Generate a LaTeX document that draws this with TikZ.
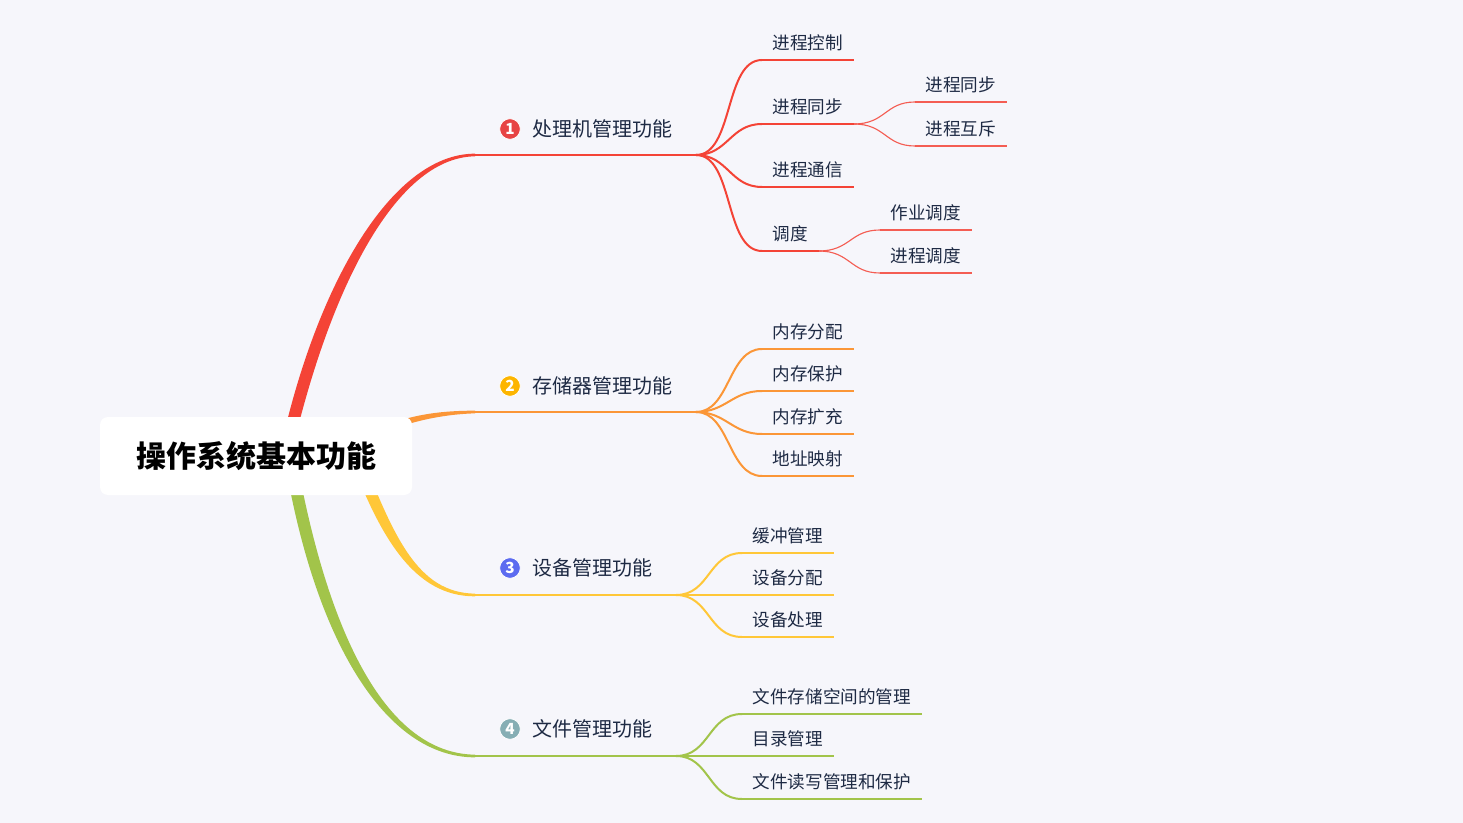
\documentclass[tikz,border=0pt]{standalone}
\usepackage{fontspec}
\setmainfont{Noto Sans CJK SC}
\usetikzlibrary{positioning}
\definecolor{pagebg}{HTML}{F6F6FB}
\definecolor{inkblue}{HTML}{1E2A44}
\definecolor{cpured}{HTML}{F44336}
\definecolor{memorange}{HTML}{FB9637}
\definecolor{devyellow}{HTML}{FFC738}
\definecolor{filegreen}{HTML}{A2C44A}
\definecolor{iconred}{HTML}{E74444}
\definecolor{iconamber}{HTML}{FDB500}
\definecolor{iconblue}{HTML}{5C6BF0}
\definecolor{iconteal}{HTML}{86AEB4}
\tikzset{
	rootbox/.style={fill=white, rounded corners=6pt, minimum width=234pt, minimum height=58.5pt, inner sep=0pt, font=\fontsize{22.5}{26}\selectfont\bfseries, text=black},
	topic/.style={inner sep=0pt, font=\fontsize{15}{18}\selectfont, text=inkblue},
	icon/.style={circle, draw=white, line width=0.6pt, minimum size=15.5pt, inner sep=0pt, text=white, font=\fontsize{11.5}{12}\selectfont\bfseries},
	leaf/.style={anchor=south west, inner xsep=7.8pt, inner ysep=5pt, text height=10.5pt, text depth=2.5pt, font=\fontsize{13.2}{16}\selectfont, text=inkblue},
	limbline/.style={line width=2.1pt},
	twig/.style={line width=1.5pt},
	subline/.style={line width=0.85pt, draw opacity=0.85}
}
\begin{document}
\begin{tikzpicture}[x=0.75pt, y=-0.75pt, node distance=8.4pt]
	\useasboundingbox (0,0) rectangle (1463,823);
	\fill[pagebg] (0,0) rectangle (1463,823);

	\coordinate (rootr) at (285,456);
	\coordinate (rootm) at (380,431);
	\coordinate (rooty) at (350,440);
	\coordinate (rootg) at (290,456);

	\coordinate (cpuin) at (475,155);
	\coordinate (cpuout) at (696,155);
	\coordinate (memin) at (475,412);
	\coordinate (memout) at (696,412);
	\coordinate (devin) at (475,595);
	\coordinate (devout) at (676,595);
	\coordinate (filein) at (475,756);
	\coordinate (fileout) at (676,756);

	% main limbs
	\fill[cpured] ([xshift=-4.5pt]rootr) .. controls +(35,-166) and +(-85,0) .. ([yshift=1pt]cpuin) -- ([yshift=-1pt]cpuin) .. controls +(-81,1) and +(37,-162) .. ([xshift=4.5pt]rootr) -- cycle;
	\fill[memorange] ([yshift=2.4pt]rootm) .. controls +(30,-13) and +(-35,0) .. ([yshift=1pt]memin) -- ([yshift=-1pt]memin) .. controls +(-32,1) and +(30,-13) .. ([yshift=-2.4pt]rootm) -- cycle;
	\fill[devyellow] ([xshift=-4.5pt]rooty) .. controls +(35,100) and +(-60,0) .. ([yshift=-1pt]devin) -- ([yshift=1pt]devin) .. controls +(-58,-1) and +(37,97) .. ([xshift=4.5pt]rooty) -- cycle;
	\fill[filegreen] ([xshift=-4.5pt]rootg) .. controls +(30,184) and +(-90,0) .. ([yshift=-1pt]filein) -- ([yshift=1pt]filein) .. controls +(-88,-1) and +(32,180) .. ([xshift=4.5pt]rootg) -- cycle;

	\node[rootbox] (root) at (256,456) {操作系统基本功能};

	\draw[limbline, cpured] (cpuin) -- (cpuout);
	\draw[limbline, memorange] (memin) -- (memout);
	\draw[limbline, devyellow] (devin) -- (devout);
	\draw[limbline, filegreen] (filein) -- (fileout);

	\node[icon, fill=iconred] (cpuicon) at (510,129) {1};
	\node[icon, fill=iconamber] (memicon) at (510,386) {2};
	\node[icon, fill=iconblue] (devicon) at (510,568) {3};
	\node[icon, fill=iconteal] (fileicon) at (510,729) {4};
	\node[topic, right=of cpuicon] (cpu) {处理机管理功能};
	\node[topic, right=of memicon] (mem) {存储器管理功能};
	\node[topic, right=of devicon] (dev) {设备管理功能};
	\node[topic, right=of fileicon] (file) {文件管理功能};

	% processor
	\node[leaf] (p1) at (762,60) {进程控制};
	\node[leaf] (p2) at (762,124) {进程同步};
	\node[leaf] (p3) at (762,187) {进程通信};
	\node[leaf] (p4) at (762,251) {调度};
	\node[leaf] (p21) at (915,102) {进程同步};
	\node[leaf] (p22) at (915,146) {进程互斥};
	\node[leaf] (p41) at (880,230) {作业调度};
	\node[leaf] (p42) at (880,273) {进程调度};
	\draw[limbline, cpured] (p1.south west) -- (p1.south east);
	\draw[limbline, cpured] (p2.south west) -- (p2.south east);
	\draw[limbline, cpured] (p3.south west) -- (p3.south east);
	\draw[limbline, cpured] (p4.south west) -- (p4.south east);
	\draw[twig, cpured] (cpuout) .. controls +(38,0) and +(-38,0) .. (p1.south west);
	\draw[twig, cpured] (cpuout) .. controls +(32,0) and +(-32,0) .. (p2.south west);
	\draw[twig, cpured] (cpuout) .. controls +(32,0) and +(-32,0) .. (p3.south west);
	\draw[twig, cpured] (cpuout) .. controls +(38,0) and +(-38,0) .. (p4.south west);
	\draw[subline, cpured] (p21.south west) -- (p21.south east);
	\draw[subline, cpured] (p22.south west) -- (p22.south east);
	\draw[subline, cpured] (p41.south west) -- (p41.south east);
	\draw[subline, cpured] (p42.south west) -- (p42.south east);
	\draw[subline, cpured] (p2.south east) .. controls +(32,0) and +(-30,0) .. (p21.south west);
	\draw[subline, cpured] (p2.south east) .. controls +(32,0) and +(-30,0) .. (p22.south west);
	\draw[subline, cpured] (p4.south east) .. controls +(32,0) and +(-30,0) .. (p41.south west);
	\draw[subline, cpured] (p4.south east) .. controls +(32,0) and +(-30,0) .. (p42.south west);

	% memory
	\node[leaf] (m1) at (762,349) {内存分配};
	\node[leaf] (m2) at (762,391) {内存保护};
	\node[leaf] (m3) at (762,434) {内存扩充};
	\node[leaf] (m4) at (762,476) {地址映射};
	\draw[limbline, memorange] (m1.south west) -- (m1.south east);
	\draw[limbline, memorange] (m2.south west) -- (m2.south east);
	\draw[limbline, memorange] (m3.south west) -- (m3.south east);
	\draw[limbline, memorange] (m4.south west) -- (m4.south east);
	\draw[twig, memorange] (memout) .. controls +(34,0) and +(-34,0) .. (m1.south west);
	\draw[twig, memorange] (memout) .. controls +(30,0) and +(-30,0) .. (m2.south west);
	\draw[twig, memorange] (memout) .. controls +(30,0) and +(-30,0) .. (m3.south west);
	\draw[twig, memorange] (memout) .. controls +(34,0) and +(-34,0) .. (m4.south west);

	% device
	\node[leaf] (d1) at (742,553) {缓冲管理};
	\node[leaf] (d2) at (742,595) {设备分配};
	\node[leaf] (d3) at (742,637) {设备处理};
	\draw[limbline, devyellow] (d1.south west) -- (d1.south east);
	\draw[limbline, devyellow] (d2.south west) -- (d2.south east);
	\draw[limbline, devyellow] (d3.south west) -- (d3.south east);
	\draw[twig, devyellow] (devout) .. controls +(34,0) and +(-34,0) .. (d1.south west);
	\draw[twig, devyellow] (devout) -- (d2.south west);
	\draw[twig, devyellow] (devout) .. controls +(34,0) and +(-34,0) .. (d3.south west);

	% file
	\node[leaf] (f1) at (742,714) {文件存储空间的管理};
	\node[leaf] (f2) at (742,756) {目录管理};
	\node[leaf] (f3) at (742,799) {文件读写管理和保护};
	\draw[limbline, filegreen] (f1.south west) -- (f1.south east);
	\draw[limbline, filegreen] (f2.south west) -- (f2.south east);
	\draw[limbline, filegreen] (f3.south west) -- (f3.south east);
	\draw[twig, filegreen] (fileout) .. controls +(34,0) and +(-34,0) .. (f1.south west);
	\draw[twig, filegreen] (fileout) -- (f2.south west);
	\draw[twig, filegreen] (fileout) .. controls +(34,0) and +(-34,0) .. (f3.south west);
\end{tikzpicture}
\end{document}
